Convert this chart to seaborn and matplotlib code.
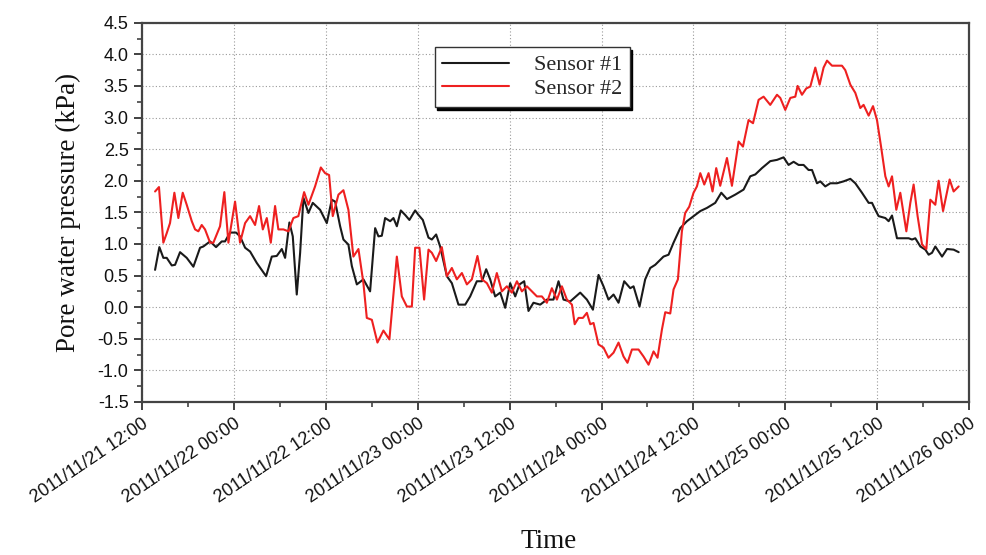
import numpy as np
import pandas as pd
import matplotlib
matplotlib.use("Agg")
import matplotlib.pyplot as plt
import matplotlib.dates as mdates
from matplotlib.ticker import MultipleLocator, FormatStrFormatter
import seaborn as sns

# ---- data (hours after 2011/11/21 12:00, pressure in kPa) ----
start_time = "2011-11-21 12:00"
series_names = ["Sensor #1", "Sensor #2"]

s1_hours = [1.74, 2.30, 2.82, 3.26, 3.92, 4.35, 5.00, 5.87, 6.74, 7.61, 8.04, 8.92, 9.70,
            10.44, 10.87, 11.53, 12.31, 12.83, 13.49, 14.14, 15.01, 16.23, 16.97, 17.62,
            18.28, 18.71, 19.27, 19.71, 20.23, 20.67, 21.10, 21.75, 22.32, 23.28, 24.15,
            24.80, 25.24, 25.89, 26.32, 26.97, 27.42, 28.07, 28.93, 29.80, 30.46, 30.89,
            31.33, 31.76, 32.42, 32.85, 33.29, 33.81, 34.37, 34.93, 35.68, 36.11, 36.68,
            37.42, 37.86, 38.42, 38.94, 39.82, 40.47, 41.33, 42.21, 42.86, 43.73, 44.39,
            44.95, 45.47, 46.12, 46.78, 47.43, 48.08, 48.74, 49.30, 49.91, 50.47, 51.12,
            52.00, 52.87, 53.73, 54.39, 55.04, 55.91, 57.22, 58.09, 58.88, 59.61, 60.26,
            60.91, 61.57, 62.22, 62.96, 63.75, 64.18, 64.96, 65.70, 66.36, 67.01, 68.09,
            68.75, 69.40, 70.27, 71.15, 72.01, 72.89, 73.76, 74.84, 75.63, 76.37, 77.45,
            78.54, 79.41, 80.07, 80.94, 82.02, 82.90, 83.76, 84.41, 85.07, 85.72, 86.37,
            87.02, 87.47, 88.12, 88.55, 89.20, 89.86, 90.73, 91.59, 92.47, 93.12, 93.99,
            94.86, 95.30, 95.73, 96.16, 97.04, 97.47, 97.91, 98.56, 99.22, 100.08, 100.52,
            100.95, 101.61, 102.26, 102.69, 103.13, 103.56, 104.44, 105.09, 105.95, 106.61]
s1_kpa = [0.59, 0.95, 0.78, 0.78, 0.66, 0.67, 0.87, 0.78, 0.64, 0.94, 0.96, 1.04, 0.95,
          1.04, 1.04, 1.18, 1.18, 1.12, 0.94, 0.88, 0.70, 0.49, 0.80, 0.81,
          0.92, 0.78, 1.34, 1.12, 0.20, 0.86, 1.73, 1.49, 1.65, 1.54, 1.33,
          1.70, 1.67, 1.28, 1.07, 0.99, 0.65, 0.36, 0.44, 0.25, 1.25, 1.12,
          1.13, 1.41, 1.36, 1.41, 1.28, 1.53, 1.46, 1.38, 1.53, 1.46, 1.38,
          1.10, 1.07, 1.15, 0.96, 0.49, 0.38, 0.04, 0.04, 0.17, 0.41, 0.41,
          0.60, 0.44, 0.17, 0.23, -0.01, 0.38, 0.17, 0.36, 0.41, -0.06, 0.07,
          0.04, 0.12, 0.12, 0.41, 0.12, 0.09, 0.23, 0.12, -0.04, 0.51, 0.33,
          0.12, 0.20, 0.07, 0.41, 0.30, 0.33, 0.01, 0.44, 0.62, 0.67, 0.80,
          0.83, 1.02, 1.25, 1.36, 1.44, 1.52, 1.57, 1.65, 1.81, 1.71, 1.78,
          1.86, 2.07, 2.10, 2.20, 2.31, 2.33, 2.37, 2.25, 2.30, 2.25, 2.25,
          2.17, 2.17, 1.96, 1.99, 1.91, 1.96, 1.96, 1.99, 2.03, 1.96, 1.81,
          1.65, 1.65, 1.54, 1.44, 1.41, 1.36, 1.45, 1.09, 1.09, 1.09, 1.07,
          1.09, 0.96, 0.91, 0.83, 0.86, 0.96, 0.80, 0.92, 0.91, 0.87]

s2_hours = [1.74, 2.25, 2.82, 3.26, 3.69, 4.26, 4.78, 5.35, 5.87, 6.53, 6.96, 7.39, 7.83,
            8.26, 8.92, 9.35, 10.22, 10.78, 11.31, 12.18, 12.83, 13.49, 14.14, 14.79,
            15.31, 15.80, 16.32, 16.84, 17.40, 17.83, 18.49, 19.14, 19.79, 20.44, 21.19,
            21.75, 22.62, 23.37, 23.93, 24.45, 24.93, 25.67, 26.32, 26.97, 27.62, 28.28,
            28.93, 29.37, 30.03, 30.76, 31.54, 32.32, 33.29, 33.94, 34.60, 35.25, 35.68,
            36.24, 36.85, 37.42, 37.86, 38.42, 39.16, 39.82, 40.47, 41.12, 41.78, 42.43,
            43.08, 43.81, 44.39, 45.04, 45.69, 46.34, 47.00, 47.65, 48.30, 48.96, 49.61,
            50.26, 50.91, 51.57, 52.22, 52.87, 53.52, 54.18, 54.83, 55.48, 56.14, 56.50,
            57.00, 57.57, 58.09, 58.53, 58.96, 59.61, 60.26, 60.91, 61.57, 62.22, 62.87,
            63.39, 63.97, 64.83, 65.48, 66.14, 66.79, 67.31, 67.89, 68.32, 68.97, 69.40,
            69.97, 70.49, 70.92, 71.45, 72.01, 72.45, 72.89, 73.41, 73.97, 74.49, 74.97,
            75.49, 76.37, 77.02, 77.89, 78.46, 79.19, 79.77, 80.50, 81.15, 82.02, 82.90,
            83.33, 83.98, 84.64, 85.29, 85.59, 86.16, 86.72, 87.25, 87.90, 88.46, 88.98,
            89.43, 90.08, 91.38, 91.81, 92.47, 93.12, 93.77, 94.20, 94.86, 95.43, 95.95,
            96.48, 97.04, 97.47, 97.91, 98.47, 98.99, 99.78, 100.30, 100.73, 101.25,
            101.83, 102.39, 102.91, 103.56, 103.99, 104.57, 105.43, 105.95, 106.61]
s2_kpa = [1.83, 1.90, 1.02, 1.17, 1.33, 1.81, 1.41, 1.81, 1.62, 1.36, 1.23, 1.20, 1.30,
          1.23, 1.02, 1.02, 1.28, 1.82, 1.02, 1.67, 1.02, 1.33, 1.44, 1.30,
          1.60, 1.23, 1.41, 1.02, 1.60, 1.23, 1.23, 1.20, 1.41, 1.44, 1.82,
          1.62, 1.91, 2.21, 2.12, 2.09, 1.44, 1.78, 1.85, 1.54, 0.80, 0.92,
          0.38, -0.17, -0.20, -0.56, -0.37, -0.51, 0.80, 0.17, 0.01, 0.01, 0.94,
          0.94, 0.12, 0.91, 0.86, 0.73, 0.95, 0.49, 0.62, 0.44, 0.54, 0.36,
          0.44, 0.81, 0.44, 0.38, 0.23, 0.54, 0.25, 0.33, 0.23, 0.41, 0.25,
          0.33, 0.25, 0.17, 0.17, 0.07, 0.30, 0.12, 0.33, 0.12, 0.04, -0.27,
          -0.17, -0.17, -0.09, -0.27, -0.25, -0.59, -0.64, -0.80, -0.72, -0.56, -0.78,
          -0.88, -0.67, -0.67, -0.78, -0.91, -0.70, -0.80, -0.35, -0.08, -0.10, 0.28,
          0.44, 1.20, 1.49, 1.59, 1.81, 1.91, 2.12, 1.94, 2.12, 1.83, 2.20,
          1.92, 2.36, 1.92, 2.62, 2.54, 2.96, 2.91, 3.28, 3.33, 3.20, 3.36,
          3.31, 3.12, 3.31, 3.33, 3.50, 3.36, 3.46, 3.49, 3.79, 3.52, 3.79,
          3.90, 3.82, 3.82, 3.75, 3.52, 3.39, 3.15, 3.20, 3.03, 3.18, 2.96,
          2.54, 2.07, 1.91, 2.07, 1.54, 1.81, 1.20, 1.65, 1.94, 1.44,
          0.99, 0.92, 1.70, 1.62, 2.00, 1.52, 2.02, 1.83, 1.91]

y_ticks = [-1.5, -1.0, -0.5, 0.0, 0.5, 1.0, 1.5, 2.0, 2.5, 3.0, 3.5, 4.0, 4.5]
x_start = "2011-11-21 12:00"
x_end = "2011-11-26 00:00"

# ---- build long table ----
t0 = pd.Timestamp(start_time)
df = pd.concat([
    pd.DataFrame({"Time": t0 + pd.to_timedelta(s1_hours, unit="h"),
                  "Pressure": s1_kpa, "Sensor": series_names[0]}),
    pd.DataFrame({"Time": t0 + pd.to_timedelta(s2_hours, unit="h"),
                  "Pressure": s2_kpa, "Sensor": series_names[1]}),
], ignore_index=True)

sns.set_theme(style="ticks")
plt.rcParams["font.family"] = ["Liberation Sans", "DejaVu Sans"]

fig = plt.figure(figsize=(9.87, 5.55), dpi=100)
ax = fig.add_axes([0.1436, 0.2757, 0.8385, 0.6834])

sns.lineplot(data=df, x="Time", y="Pressure", hue="Sensor",
             palette={series_names[0]: "#1a1a1a", series_names[1]: "#ee2020"},
             estimator=None, sort=False, linewidth=1.5, ax=ax)

ax.set_xlim(pd.Timestamp(x_start), pd.Timestamp(x_end))
ax.set_ylim(y_ticks[0], y_ticks[-1])
ax.set_yticks(y_ticks)
ax.yaxis.set_major_formatter(FormatStrFormatter("%.1f"))
ax.yaxis.set_minor_locator(MultipleLocator(0.25))
ax.xaxis.set_major_locator(mdates.HourLocator(byhour=[0, 12]))
ax.xaxis.set_minor_locator(mdates.HourLocator(byhour=[6, 18]))
ax.xaxis.set_major_formatter(mdates.DateFormatter("%Y/%m/%d %H:%M"))

ax.grid(True, which="major", linestyle=(0, (1, 2)), color="#9a9a9a", linewidth=0.8)
for s in ax.spines.values():
    s.set_visible(True)
    s.set_linewidth(1.6)
    s.set_color("#444444")

ax.tick_params(axis="both", which="major", direction="out", length=6, width=1.3,
               colors="#333333", labelsize=13, labelcolor="#111111")
ax.tick_params(axis="both", which="minor", direction="out", length=3.5, width=1.1,
               colors="#333333")
for lab in ax.get_xticklabels():
    lab.set_rotation(34)
    lab.set_ha("right")
    lab.set_rotation_mode("anchor")

ax.set_ylabel("Pore water pressure (kPa)", family=["Liberation Serif"], fontsize=19.5,
              labelpad=12, color="#111111")
ax.set_xlabel("Time", family=["Liberation Serif"], fontsize=19.5, color="#111111")
ax.xaxis.set_label_coords(0.492, -0.335)

leg = ax.legend(loc="upper left", bbox_to_anchor=(0.354, 0.936), borderaxespad=0,
                frameon=True, fancybox=False, shadow={"color": "black", "alpha": 1},
                prop={"family": "Liberation Serif", "size": 16},
                handlelength=3.0, handletextpad=1.1, borderpad=0.35,
                labelspacing=0.15)
leg.get_frame().set_edgecolor("#333333")
leg.get_frame().set_linewidth(1.0)
leg.get_frame().set_alpha(1)
for line in leg.get_lines():
    line.set_linewidth(1.5)

fig.savefig("out.png", dpi=100, facecolor="white")
